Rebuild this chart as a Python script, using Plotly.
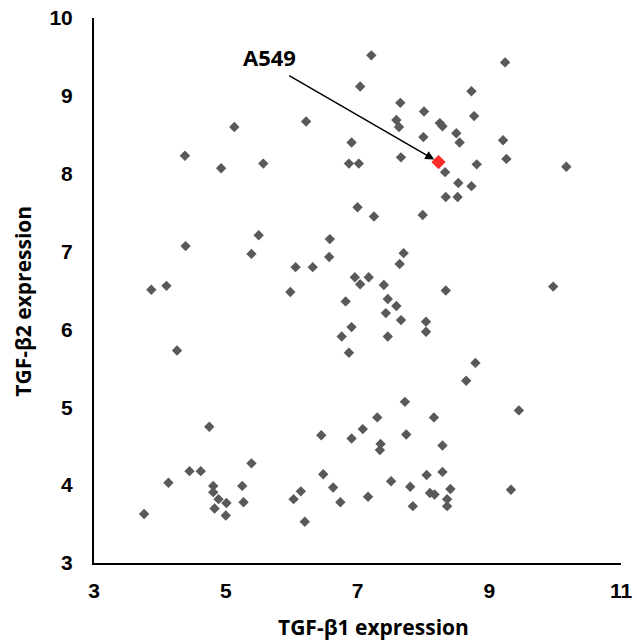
import plotly.graph_objects as go

tgf_b1 = [4.38, 4.93, 5.13, 5.57, 6.22, 6.91, 6.87, 7.02, 7.04, 7.21,
          9.24, 8.73, 7.65, 8.01, 8.77, 7.59, 7.63, 8.25, 8.29, 8.50,
          8.55, 9.21, 8.00, 7.66, 9.26, 10.17, 8.81, 8.33, 8.53, 8.73,
          8.34, 8.52, 7.00, 7.25, 7.99, 7.70, 7.64, 7.17, 6.96, 7.04,
          7.40, 7.46, 7.59, 7.43, 7.66, 8.04, 8.04, 7.46, 8.34, 9.97,
          8.79, 8.65, 7.72, 5.50, 4.39, 5.39, 6.58, 6.57, 6.06, 6.32,
          4.10, 3.87, 5.98, 6.82, 6.91, 6.76, 6.87, 4.26, 4.75, 6.45,
          6.91, 7.08, 5.39, 4.45, 4.62, 4.13, 4.81, 4.81, 5.25, 4.89,
          5.01, 5.27, 4.83, 5.00, 3.76, 6.48, 6.63, 6.14, 6.03, 6.74,
          6.20, 7.16, 9.45, 7.30, 8.16, 7.74, 7.35, 7.34, 8.29, 8.05,
          8.29, 7.51, 7.80, 8.41, 9.33, 8.10, 8.17, 8.36, 8.36, 7.84]
tgf_b2 = [8.23, 8.07, 8.60, 8.13, 8.67, 8.40, 8.13, 8.13, 9.12, 9.52,
          9.43, 9.06, 8.91, 8.80, 8.74, 8.69, 8.60, 8.65, 8.61, 8.52,
          8.40, 8.43, 8.47, 8.21, 8.19, 8.09, 8.12, 8.02, 7.88, 7.84,
          7.70, 7.70, 7.57, 7.45, 7.47, 6.98, 6.84, 6.67, 6.67, 6.58,
          6.57, 6.39, 6.30, 6.21, 6.12, 6.10, 5.97, 5.91, 6.50, 6.55,
          5.57, 5.34, 5.07, 7.21, 7.07, 6.97, 7.16, 6.93, 6.80, 6.80,
          6.56, 6.51, 6.48, 6.36, 6.03, 5.91, 5.70, 5.73, 4.75, 4.64,
          4.60, 4.72, 4.28, 4.18, 4.18, 4.03, 3.99, 3.91, 3.99, 3.82,
          3.77, 3.78, 3.70, 3.61, 3.63, 4.14, 3.97, 3.92, 3.82, 3.78,
          3.53, 3.85, 4.96, 4.87, 4.87, 4.65, 4.53, 4.45, 4.51, 4.13,
          4.17, 4.05, 3.98, 3.95, 3.94, 3.90, 3.88, 3.82, 3.73, 3.73]

a549_label = "A549"
a549_x = [8.23]
a549_y = [8.15]
label_pos = [5.66, 9.50]
arrow_tail = [5.94, 9.27]

x_title = "TGF-β1 expression"
y_title = "TGF-β2 expression"
x_ticks = [3, 5, 7, 9, 11]
y_ticks = [3, 4, 5, 6, 7, 8, 9, 10]

fig = go.Figure()
fig.add_trace(go.Scatter(
    x=tgf_b1, y=tgf_b2, mode="markers",
    marker=dict(symbol="diamond", size=8, color="#595959"),
    showlegend=False, hoverinfo="x+y"))
fig.add_trace(go.Scatter(
    x=a549_x, y=a549_y, mode="markers",
    marker=dict(symbol="diamond", size=11, color="#FF2A2A"),
    showlegend=False, name=a549_label))

fig.add_annotation(x=a549_x[0], y=a549_y[0], ax=arrow_tail[0], ay=arrow_tail[1],
                   xref="x", yref="y", axref="x", ayref="y", text="",
                   showarrow=True, arrowhead=2, arrowsize=1.2, arrowwidth=1.5,
                   arrowcolor="black", standoff=5)
fig.add_annotation(x=label_pos[0], y=label_pos[1], xref="x", yref="y",
                   text="<b>" + a549_label + "</b>", showarrow=False,
                   font=dict(family="Open Sans", size=22, color="black"))

# axis titles (placed like the original, centred on the chart area)
fig.add_annotation(x=0.531, y=-0.117, xref="paper", yref="paper",
                   xanchor="center", yanchor="middle", showarrow=False,
                   text="<b>" + x_title + "</b>",
                   font=dict(family="Open Sans", size=21, color="black"))
fig.add_annotation(x=-0.135, y=0.481, xref="paper", yref="paper",
                   xanchor="center", yanchor="middle", showarrow=False, textangle=-90,
                   text="<b>" + y_title + "</b>",
                   font=dict(family="Open Sans", size=21, color="black"))

axis_common = dict(showgrid=False, zeroline=False, showline=True, linecolor="black",
                   linewidth=2, ticks="", mirror=False, ticklabeloverflow="allow",
                   tickfont=dict(family="Arial, 'Liberation Sans', sans-serif", size=21,
                                 color="black", weight=700))

fig.update_xaxes(range=[3, 11], tickvals=x_ticks, ticktext=[str(v) for v in x_ticks],
                 ticklabelstandoff=8, **axis_common)
fig.update_yaxes(range=[3, 10], tickvals=y_ticks, ticktext=[str(v) for v in y_ticks],
                 ticklabelstandoff=15, **axis_common)

fig.update_layout(width=637, height=641, plot_bgcolor="white", paper_bgcolor="white",
                  margin=dict(l=94, r=16, t=18, b=78, autoexpand=False))
fig.write_html("out.html", config={"displayModeBar": False},
               post_script="document.body.style.margin='0';document.body.style.overflow='hidden';")
